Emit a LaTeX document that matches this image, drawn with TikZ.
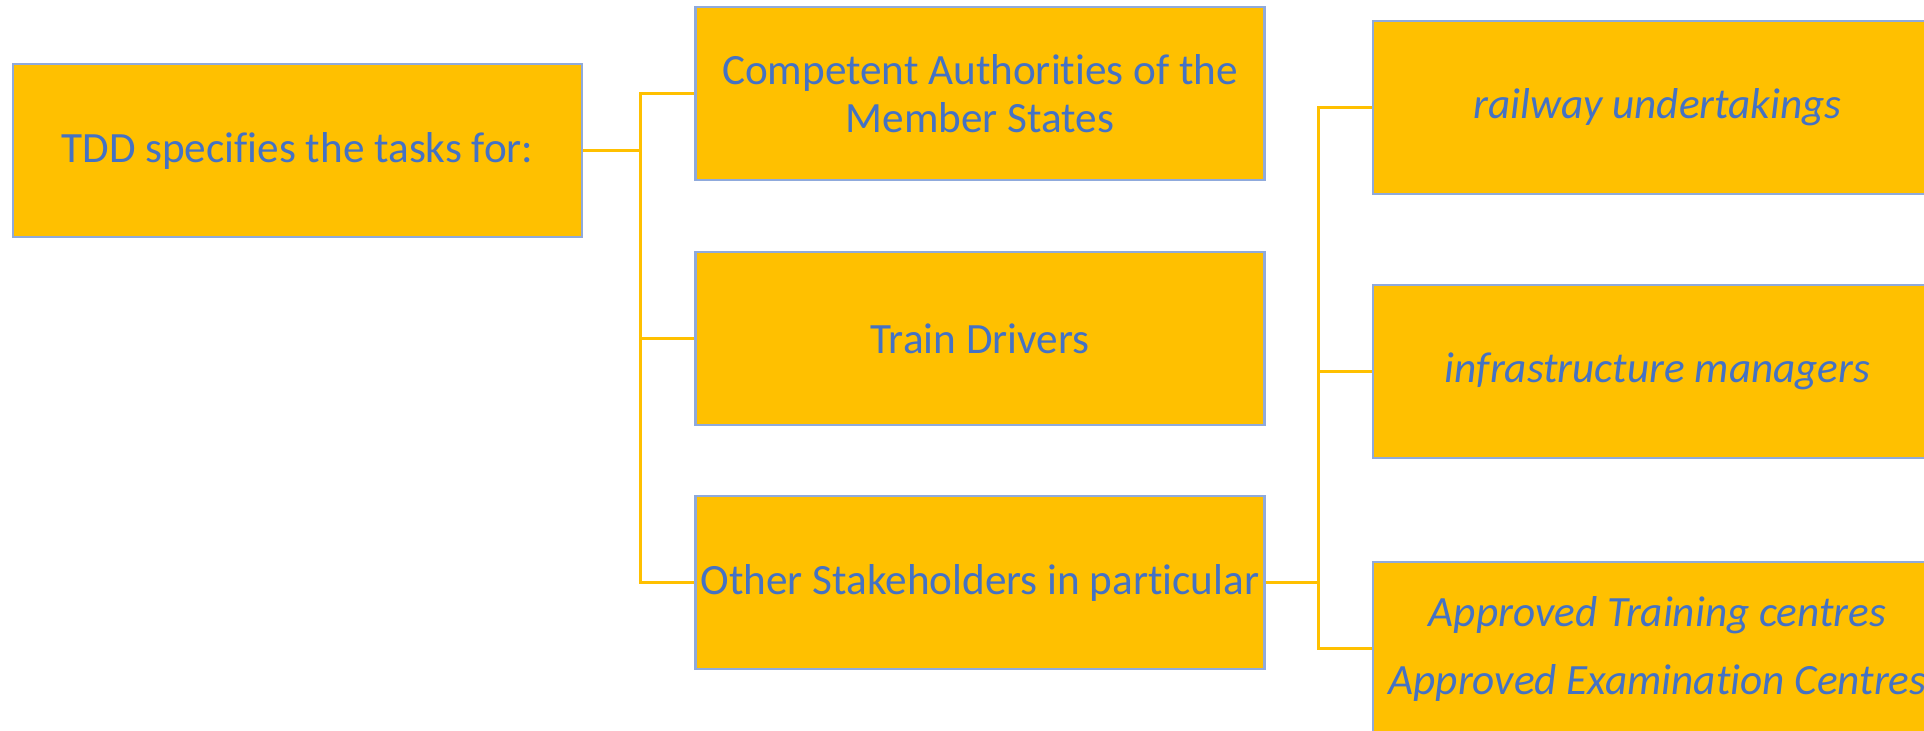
\documentclass[tikz,border=0pt]{standalone}
\usepackage{fontspec}
\setmainfont[Ligatures=CommonOff]{Carlito}
\usetikzlibrary{calc}
\definecolor{boxgold}{HTML}{FFC000}
\definecolor{boxrim}{HTML}{8FAADC}
\definecolor{boxtext}{HTML}{4472C4}
\begin{document}
\begin{tikzpicture}[x=0.5pt,y=-0.5pt,
	task/.style={draw=boxrim, line width=1.2pt, fill=boxgold, text=boxtext,
		minimum width=284.5pt, minimum height=86.5pt, inner sep=0pt,
		align=center, font=\fontsize{21.6}{24}\selectfont},
	link/.style={draw=boxgold, line width=1.5pt}]
	\useasboundingbox (0,0) rectangle (1924,731);
	\clip (0,0) rectangle (1924,731);
	
	\node[task] (root) at (297.5,150.5) {TDD specifies the tasks for:};
	
	\node[task] (ca) at (980,93.5) {Competent Authorities of the\\Member States};
	\node[task] (td) at (980,338.5) {Train Drivers};
	\node[task] (os) at (980,582.5) {Other Stakeholders in particular};
	
	\node[task, font=\fontsize{21.6}{24}\selectfont\itshape] (ru) at (1657.5,107.5) {railway undertakings};
	\node[task, font=\fontsize{21.6}{24}\selectfont\itshape] (im) at (1657.5,371.5) {infrastructure managers};
	\node[task, font=\fontsize{21.6}{34}\selectfont\itshape] (atc) at (1657.5,648.5) {Approved Training centres\\Approved Examination Centres};
	
	\coordinate (lbus) at ($(root.east)+(57,0)$);
	\coordinate (rbus) at ($(os.east)+(53,0)$);
	
	\foreach \n in {ca,td,os}
		\draw[link] (root.east) -- (lbus) |- (\n.west);
	\foreach \n in {ru,im,atc}
		\draw[link] (os.east) -- (rbus) |- (\n.west);
\end{tikzpicture}
\end{document}
